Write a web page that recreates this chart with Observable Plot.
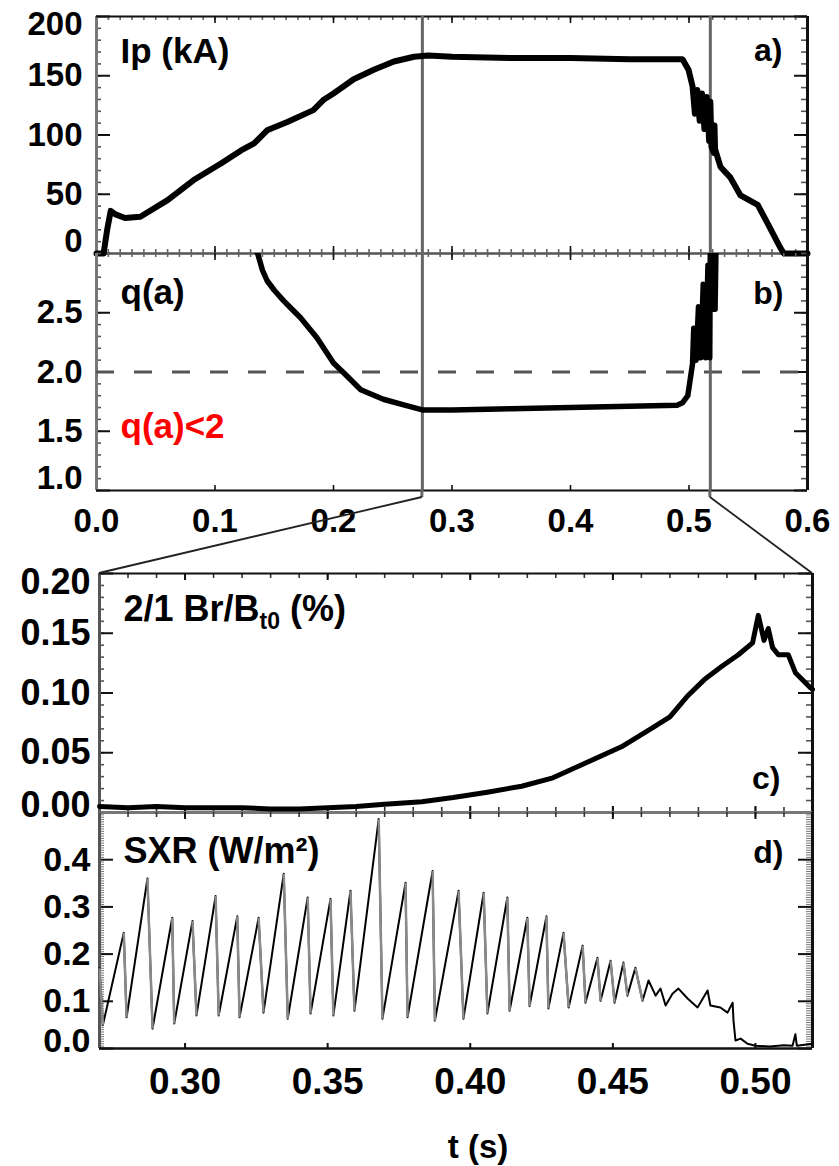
<!DOCTYPE html>
<html><head><meta charset="utf-8">
<script src="https://cdn.jsdelivr.net/npm/d3@7"></script>
<script src="https://cdn.jsdelivr.net/npm/@observablehq/plot@0.6"></script>
<style>
body{margin:0;background:#fff}
#root{position:relative;width:839px;height:1166px;background:#fff;overflow:hidden}
#root svg{position:absolute;left:0}
</style></head><body><div id="root"></div>
<script>
// ---------------- data ----------------
const ipTime = [0, 0.006, 0.009, 0.012, 0.016, 0.024, 0.037, 0.06, 0.082, 0.105, 0.122, 0.133, 0.144, 0.161, 0.183, 0.192, 0.2, 0.217, 0.234, 0.251, 0.268, 0.28, 0.3, 0.35, 0.4, 0.45, 0.4945, 0.4996, 0.503, 0.505, 0.507, 0.509, 0.511, 0.513, 0.515, 0.517, 0.518, 0.519, 0.521, 0.5215, 0.522, 0.5266, 0.535, 0.5435, 0.558, 0.566, 0.577, 0.58, 0.6];
const ipKA   = [0, 0, 20, 36, 33, 30, 31, 45, 62, 76, 87, 93, 104, 111, 121, 130, 135, 147, 155, 162, 166, 167, 166, 165, 165, 164, 164, 155, 141, 118, 138, 112, 135, 105, 132, 95, 128, 90, 85, 108, 88, 73, 64, 49, 41, 26, 5, 0, 0];

const qTime = [0.132, 0.136, 0.14, 0.144, 0.15, 0.158, 0.165, 0.172, 0.186, 0.2, 0.209, 0.223, 0.242, 0.26, 0.275, 0.3, 0.35, 0.4, 0.45, 0.49, 0.4945, 0.499, 0.503, 0.504, 0.506, 0.508, 0.510, 0.512, 0.514, 0.516, 0.5175, 0.518, 0.5195, 0.5205, 0.522, 0.523];
const qEdge = [3.08, 3.0, 2.86, 2.77, 2.69, 2.6, 2.53, 2.46, 2.29, 2.075, 1.99, 1.85, 1.77, 1.72, 1.68, 1.68, 1.69, 1.7, 1.71, 1.72, 1.74, 1.8, 2.07, 2.37, 2.1, 2.55, 2.12, 2.74, 2.12, 2.9, 2.12, 3.1, 3.2, 2.53, 2.53, 3.2];

const brTime = [0.27, 0.28, 0.29, 0.3, 0.31, 0.32, 0.33, 0.34, 0.35, 0.36, 0.37, 0.383, 0.394, 0.406, 0.418, 0.429, 0.441, 0.453, 0.464, 0.47, 0.476, 0.482, 0.488, 0.494, 0.499, 0.501, 0.503, 0.5045, 0.506, 0.508, 0.5115, 0.514, 0.519, 0.52];
const brPct  = [0.005, 0.004, 0.005, 0.004, 0.004, 0.004, 0.003, 0.003, 0.004, 0.005, 0.007, 0.009, 0.0125, 0.017, 0.022, 0.029, 0.042, 0.055, 0.071, 0.08, 0.097, 0.111, 0.122, 0.132, 0.142, 0.165, 0.144, 0.154, 0.138, 0.132, 0.132, 0.117, 0.105, 0.103];

const sxrTime = [0.2700, 0.2712, 0.2785, 0.2795, 0.2868, 0.2886, 0.2955, 0.2962, 0.3026, 0.304, 0.3107, 0.3118, 0.3183, 0.3191, 0.3258, 0.3275, 0.3346, 0.336, 0.343, 0.344, 0.351, 0.352, 0.358, 0.3594, 0.3679, 0.3692, 0.3773, 0.378, 0.3868, 0.3876, 0.3959, 0.3976, 0.4047, 0.406, 0.413, 0.4138, 0.42, 0.4208, 0.4267, 0.4274, 0.4327, 0.4345, 0.4394, 0.4404, 0.4446, 0.4457, 0.4492, 0.4506, 0.4537, 0.4551, 0.4579, 0.4604, 0.4625, 0.465, 0.4667, 0.4685, 0.4709, 0.473, 0.4762, 0.4797, 0.4832, 0.4842, 0.4877, 0.4902, 0.492, 0.4923, 0.493, 0.4948, 0.4972, 0.5, 0.505, 0.51, 0.513, 0.514, 0.5145, 0.52];
const sxrW    = [0.17, 0.05, 0.245, 0.066, 0.36, 0.042, 0.277, 0.053, 0.27, 0.07, 0.323, 0.07, 0.28, 0.066, 0.277, 0.076, 0.37, 0.063, 0.32, 0.074, 0.317, 0.07, 0.334, 0.08, 0.486, 0.063, 0.351, 0.066, 0.376, 0.059, 0.334, 0.063, 0.33, 0.074, 0.32, 0.08, 0.277, 0.09, 0.28, 0.085, 0.245, 0.087, 0.218, 0.097, 0.192, 0.101, 0.186, 0.097, 0.182, 0.112, 0.171, 0.101, 0.144, 0.112, 0.127, 0.091, 0.116, 0.127, 0.106, 0.087, 0.123, 0.091, 0.087, 0.076, 0.097, 0.059, 0.017, 0.021, 0.01, 0.006, 0.004, 0.007, 0.006, 0.03, 0.006, 0.01];

const qRef = [2.0];
const zoomWindow = [0.275, 0.518];
const topXTicks = [0, 0.1, 0.2, 0.3, 0.4, 0.5, 0.6];
const bottomXTicks = [0.30, 0.35, 0.40, 0.45, 0.50];
const ipTicks = [0, 50, 100, 150, 200];
const qTicks = [1.0, 1.5, 2.0, 2.5];
const brTicks = [0, 0.05, 0.10, 0.15, 0.20];
const sxrTicks = [0, 0.1, 0.2, 0.3, 0.4];
const panelLabels = ["Ip (kA)", "q(a)", "2/1 Br/Bt0 (%)", "SXR (W/m²)"];
const panelTags = ["a)", "b)", "c)", "d)"];
const noteText = "q(a)<2";
const xTitle = "t (s)";

// ---------------- build ----------------
const W = 839, H = 1166;
const FONT = "'Liberation Sans', Arial, Helvetica, sans-serif";
const root = document.getElementById("root");
const zip = (a, b) => a.map((t, i) => ({t, v: b[i]}));
const rng = (a, b, s) => d3.range(Math.round((b - a) / s) + 1).map(i => +(a + i * s).toFixed(6));

function panel(cfg) {
  const {top, height, mt, mb, ml, mr, xDomain, yDomain} = cfg;
  const fw = W - ml - mr, fh = height - mt - mb;
  const marks = [];
  const tick = (axis, side, vals, len, stroke = "#222", sw = 1.6) => axis === "y"
    ? Plot.tickY(vals, {y: d => d, stroke, strokeWidth: sw, ...(side === "left" ? {insetRight: fw - len} : {insetLeft: fw - len})})
    : Plot.tickX(vals, {x: d => d, stroke, strokeWidth: sw, ...(side === "top" ? {insetBottom: fh - len} : {insetTop: fh - len})});
  (cfg.ticks || []).forEach(t => marks.push(tick(...t)));
  (cfg.frame || []).forEach(([side, stroke, sw]) => {
    if (side === "left") marks.push(Plot.ruleX([xDomain[0]], {stroke, strokeWidth: sw}));
    if (side === "right") marks.push(Plot.ruleX([xDomain[1]], {stroke, strokeWidth: sw}));
    if (side === "bottom") marks.push(Plot.ruleY([yDomain[0]], {stroke, strokeWidth: sw}));
    if (side === "top") marks.push(Plot.ruleY([yDomain[1]], {stroke, strokeWidth: sw}));
  });
  marks.push(...cfg.marks);
  const plot = Plot.plot({
    width: W, height, marginTop: mt, marginBottom: mb, marginLeft: ml, marginRight: mr,
    x: {domain: xDomain, axis: null}, y: {domain: yDomain, axis: null},
    style: {fontFamily: FONT, fontWeight: "bold", fontSize: cfg.fontSize || "33px", background: "transparent", overflow: "visible", color: "black"},
    marks
  });
  plot.style.top = top + "px";
  root.appendChild(plot);
  return {plot, fw, fh, top, mt};
}

function yLabels(vals, fmt, dx, fontSize, shifts) {
  const out = [Plot.text(vals.filter(v => !(String(v) in shifts)), {y: d => d, text: fmt, frameAnchor: "left", textAnchor: "end", dx, lineAnchor: "middle", fontSize})];
  for (const k of Object.keys(shifts)) {
    out.push(Plot.text(vals.filter(v => String(v) === k), {y: d => d, text: fmt, frameAnchor: "left", textAnchor: "end", dx, dy: shifts[k], lineAnchor: "middle", fontSize}));
  }
  return out;
}
function xLabels(vals, fmt, dy, fontSize) {
  return Plot.text(vals, {x: d => d, text: fmt, frameAnchor: "bottom", lineAnchor: "top", dy, fontSize});
}
const label = (text, anchor, dx, dy, opts = {}) =>
  Plot.text([text], {text: d => d, frameAnchor: anchor, textAnchor: anchor.endsWith("right") ? "end" : anchor === "bottom" ? "middle" : "start", lineAnchor: "bottom", dx, dy, fontSize: 35, ...opts});

const f1 = d3.format(".1f"), f2 = d3.format(".2f");

// Panel a: Ip
const A = panel({
  top: 0, height: 260, mt: 16, mb: 7, ml: 96, mr: 32, xDomain: [0, 0.6], yDomain: [0, 200],
  ticks: [
    ["y", "left", rng(0, 200, 10), 5, "#555"], ["y", "left", ipTicks, 14, "#111", 2],
    ["y", "right", rng(0, 200, 10), 6, "#555"], ["y", "right", ipTicks, 13, "#111", 2],
    ["x", "top", rng(0, 0.6, 0.01), 4, "#666"], ["x", "top", topXTicks, 7, "#111"],
    ["x", "bottom", rng(0, 0.6, 0.01), 4, "#666"], ["x", "bottom", topXTicks, 7, "#111"]
  ],
  frame: [["left", "#777", 3], ["top", "#111", 2], ["right", "#111", 3], ["bottom", "#555", 2.5]],
  marks: [
    Plot.ruleX(zoomWindow, {stroke: "#666", strokeWidth: 3}),
    Plot.line(zip(ipTime, ipKA), {x: "t", y: "v", stroke: "black", strokeWidth: 6}),
    ...yLabels(ipTicks, d => String(d), -14, 33, {"0": -12, "200": 8}),
    label(panelLabels[0], "top-left", 24, 46),
    label(panelTags[0], "top-right", -25, 44, {fontSize: 32})
  ]
});

// Panel b: q(a)
const B = panel({
  top: 243, height: 307, mt: 10, mb: 60, ml: 96, mr: 32, xDomain: [0, 0.6], yDomain: [1.0, 3.0],
  ticks: [
    ["y", "left", rng(1, 3, 0.1), 5, "#555"], ["y", "left", qTicks, 14, "#111", 2],
    ["y", "right", rng(1, 3, 0.1), 6, "#555"], ["y", "right", qTicks, 13, "#111", 2],
    ["x", "top", rng(0, 0.6, 0.01), 4, "#666"], ["x", "top", topXTicks, 7, "#111"],
    ["x", "bottom", topXTicks, 5, "#111"]
  ],
  frame: [["left", "#777", 3], ["bottom", "#111", 2], ["right", "#111", 3]],
  marks: [
    Plot.ruleY(qRef, {stroke: "#555", strokeWidth: 3, strokeDasharray: "18,20"}),
    Plot.ruleX(zoomWindow, {stroke: "#666", strokeWidth: 3}),
    Plot.line(zip(qTime, qEdge), {x: "t", y: "v", stroke: "black", strokeWidth: 5.5, clip: true}),
    ...yLabels(qTicks, f1, -14, 33, {"1": -12}),
    xLabels(topXTicks, f1, 18, 33),
    label(panelLabels[1], "top-left", 24, 50),
    label(panelTags[1], "top-right", -24, 50, {fontSize: 32}),
    label(noteText, "top-left", 24, 184, {fill: "#ff0000"})
  ]
});

// Panel c: Br/Bt0
const C = panel({
  top: 560, height: 258, mt: 13, mb: 6, ml: 99, mr: 27, xDomain: [0.27, 0.52], yDomain: [0, 0.2], fontSize: "37px",
  ticks: [
    ["y", "left", rng(0, 0.2, 0.01), 5, "#555"], ["y", "left", brTicks, 14, "#111", 2],
    ["y", "right", rng(0, 0.2, 0.01), 6, "#555"], ["y", "right", brTicks, 14, "#111", 2],
    ["x", "top", rng(0.27, 0.52, 0.01), 5, "#333"], ["x", "top", bottomXTicks, 7, "#111", 2],
    ["x", "bottom", rng(0.27, 0.52, 0.01), 5, "#333"], ["x", "bottom", bottomXTicks, 6, "#111", 2]
  ],
  frame: [["left", "#555", 3], ["top", "#111", 2], ["right", "#111", 3], ["bottom", "#777", 3]],
  marks: [
    Plot.line(zip(brTime, brPct), {x: "t", y: "v", stroke: "black", strokeWidth: 5}),
    ...yLabels(brTicks, f2, -9, 36, {"0": -7, "0.2": 9}),
    label(panelLabels[2], "top-left", 24, 47, {fontSize: 36}),
    label(panelTags[2], "bottom-right", -32, -24, {fontSize: 32})
  ]
});

// Panel d: SXR
const sxr = zip(sxrTime, sxrW);
const crashes = sxr.slice(1).map((d, i) => ({a: sxr[i], b: d})).filter(s => s.b.v < s.a.v - 0.05);
const D = panel({
  top: 800, height: 366, mt: 12, mb: 118, ml: 99, mr: 27, xDomain: [0.27, 0.52], yDomain: [0, 0.5], fontSize: "37px",
  ticks: [
    ["y", "left", rng(0, 0.5, 0.005), 5, "#777", 1], ["y", "left", sxrTicks, 14, "#111", 2],
    ["y", "right", rng(0, 0.5, 0.005), 6, "#777", 1], ["y", "right", sxrTicks, 14, "#111", 2],
    ["x", "top", rng(0.27, 0.52, 0.01), 5, "#333"], ["x", "top", bottomXTicks, 7, "#111", 2],
    ["x", "bottom", bottomXTicks, 5, "#111", 2]
  ],
  frame: [["left", "#555", 3], ["bottom", "#111", 2.5], ["right", "#111", 3]],
  marks: [
    Plot.line(sxr, {x: "t", y: "v", stroke: "black", strokeWidth: 2}),
    Plot.link(crashes, {x1: d => d.a.t, y1: d => d.a.v, x2: d => d.b.t, y2: d => d.b.v, stroke: "#8a8a8a", strokeWidth: 2.5}),
    ...yLabels(sxrTicks, f1, -9, 34, {"0": -7}),
    xLabels(bottomXTicks, f2, 19, 37),
    label(panelLabels[3], "top-left", 24, 50, {fontSize: 36}),
    label(panelTags[3], "top-right", -29, 50, {fontSize: 32}),
    label(xTitle, "bottom", 22, 109, {fontSize: 33})
  ]
});

// subscript in panel c label
d3.select(C.plot).selectAll("text").filter(function () { return this.textContent === panelLabels[2]; })
  .each(function () {
    const t = d3.select(this);
    t.text(null);
    t.append("tspan").text("2/1 Br/B");
    t.append("tspan").attr("dy", 8).attr("font-size", 23).text("t0");
    t.append("tspan").attr("dy", -8).text(" (%)");
  });

// zoom connector lines (computed through the panels' own scales)
const sc = (p, k, v) => { const s = p.plot.scale(k); return s.apply ? s.apply(v) : d3.scaleLinear(s.domain, s.range)(v); };
const ov = d3.select(root).append("svg").attr("width", W).attr("height", H).style("top", "0px").style("pointer-events", "none");
const yB = B.top + sc(B, "y", 1.0);
const yC = C.top + sc(C, "y", 0.2);
const cDom = C.plot.scale("x").domain;
zoomWindow.forEach((v, i) => {
  const xb = sc(B, "x", v);
  const xc = sc(C, "x", cDom[i]);
  ov.append("line").attr("x1", xb).attr("x2", xb).attr("y1", yB).attr("y2", yB + 7).attr("stroke", "#666").attr("stroke-width", 3);
  ov.append("line").attr("x1", xb).attr("y1", yB + 7).attr("x2", xc).attr("y2", yC).attr("stroke", "#222").attr("stroke-width", 1.8);
});
</script></body></html>
